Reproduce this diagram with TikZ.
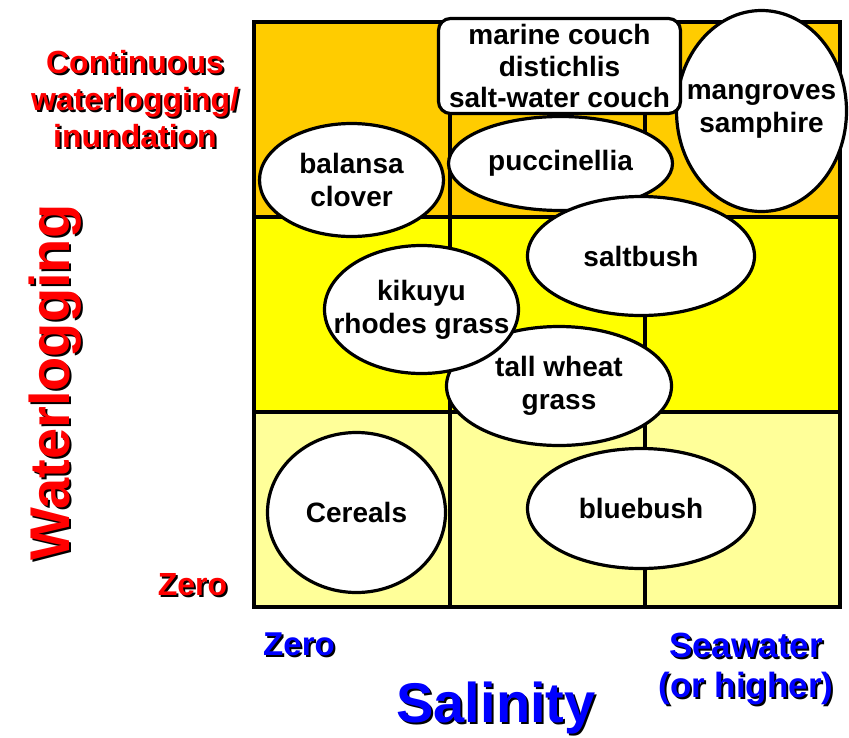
\documentclass[tikz,border=0pt]{standalone}
\usepackage{fontspec}
\setmainfont{Liberation Sans}
\usetikzlibrary{shapes.geometric}
\definecolor{cOrange}{HTML}{FFCC00}
\definecolor{cYellow}{HTML}{FFFF00}
\definecolor{cPale}{HTML}{FFFF99}
\definecolor{cRed}{HTML}{FF0000}
\definecolor{cBlue}{HTML}{0000FF}
\newcommand{\shtxt}[4]{\makebox[0pt][l]{\hspace*{#1}\raisebox{#2}{\color{black}#4}}\textcolor{#3}{#4}}
\begin{document}
\begin{tikzpicture}[x=1pt,y=-1pt,
  gridline/.style={draw=black, line width=3.5pt},
  plant/.style={ellipse, draw=black, fill=white, line width=3.2pt, inner sep=0pt},
  ptext/.style={font=\bfseries\fontsize{28}{33}\selectfont, align=center, text=black, inner sep=0pt},
  boxplant/.style={rectangle, rounded corners=12pt, draw=black, fill=white, line width=3.2pt, inner sep=0pt,
     font=\bfseries\fontsize{28}{31.5}\selectfont, align=center},
  axlab/.style={align=center, inner sep=0pt}]
\useasboundingbox (0,0) rectangle (849,737);
% rows
\fill[cOrange] (254,22) rectangle (840,217);
\fill[cYellow] (254,217) rectangle (840,412);
\fill[cPale] (254,412) rectangle (840,607);
\draw[gridline] (450,22) -- (450,607);
\draw[gridline] (645,22) -- (645,607);
\draw[gridline] (254,217) -- (840,217);
\draw[gridline] (254,412) -- (840,412);
\draw[gridline] (254,22) rectangle (840,607);
% plants
\node[plant, minimum width=184, minimum height=113, label={[ptext]center:balansa\\clover}] (bal) at (351.5,180) {};
\node[plant, minimum width=224, minimum height=94, label={[ptext]center:puccinellia}] (puc) at (560.5,163.5) {};
\node[plant, minimum width=170, minimum height=201, label={[ptext]center:mangroves\\samphire}] (man) at (761.5,111) {};
\node[boxplant, minimum width=242, minimum height=95] (mar) at (559.5,66) {marine couch\\distichlis\\salt-water couch};
\node[plant, minimum width=227, minimum height=119, label={[ptext]center:saltbush}] (salt) at (641,256) {};
\node[plant, minimum width=225, minimum height=119, label={[ptext]center:tall wheat\\grass}] (tall) at (559,386) {};
\node[plant, minimum width=194, minimum height=128, label={[ptext]center:kikuyu\\rhodes grass}] (kik) at (421.5,309.5) {};
\node[plant, minimum width=178, minimum height=160, label={[ptext]center:Cereals}] (cer) at (356.5,512.5) {};
\node[plant, minimum width=227, minimum height=120, label={[ptext]center:bluebush}] (blue) at (641,508.5) {};
% axis labels
\node[axlab, font=\bfseries\fontsize{32}{37}\selectfont] (cont) at (135,100)
  {\shtxt{2pt}{-2pt}{cRed}{Continuous}\\\shtxt{2pt}{-2pt}{cRed}{waterlogging/}\\\shtxt{2pt}{-2pt}{cRed}{inundation}};
\node[axlab, rotate=90, font=\bfseries\fontsize{56}{60}\selectfont] (wl) at (56.5,382.5)
  {\shtxt{-2pt}{-2pt}{cRed}{Waterlogging}};
\node[axlab, font=\bfseries\fontsize{32}{37}\selectfont] (zr) at (192.5,586) {\shtxt{2pt}{-2pt}{cRed}{Zero}};
\node[axlab, font=\bfseries\fontsize{33}{38}\selectfont] (zb) at (299,645) {\shtxt{2pt}{-2pt}{cBlue}{Zero}};
\node[axlab, font=\bfseries\fontsize{35}{40}\selectfont] (sea) at (746,670)
  {\shtxt{2pt}{-2pt}{cBlue}{Seawater}\\\shtxt{2pt}{-2pt}{cBlue}{(or higher)}};
\node[axlab, font=\bfseries\fontsize{56}{60}\selectfont] (sal) at (496,709.5) {\shtxt{2pt}{-2pt}{cBlue}{Salinity}};
\end{tikzpicture}
\end{document}
